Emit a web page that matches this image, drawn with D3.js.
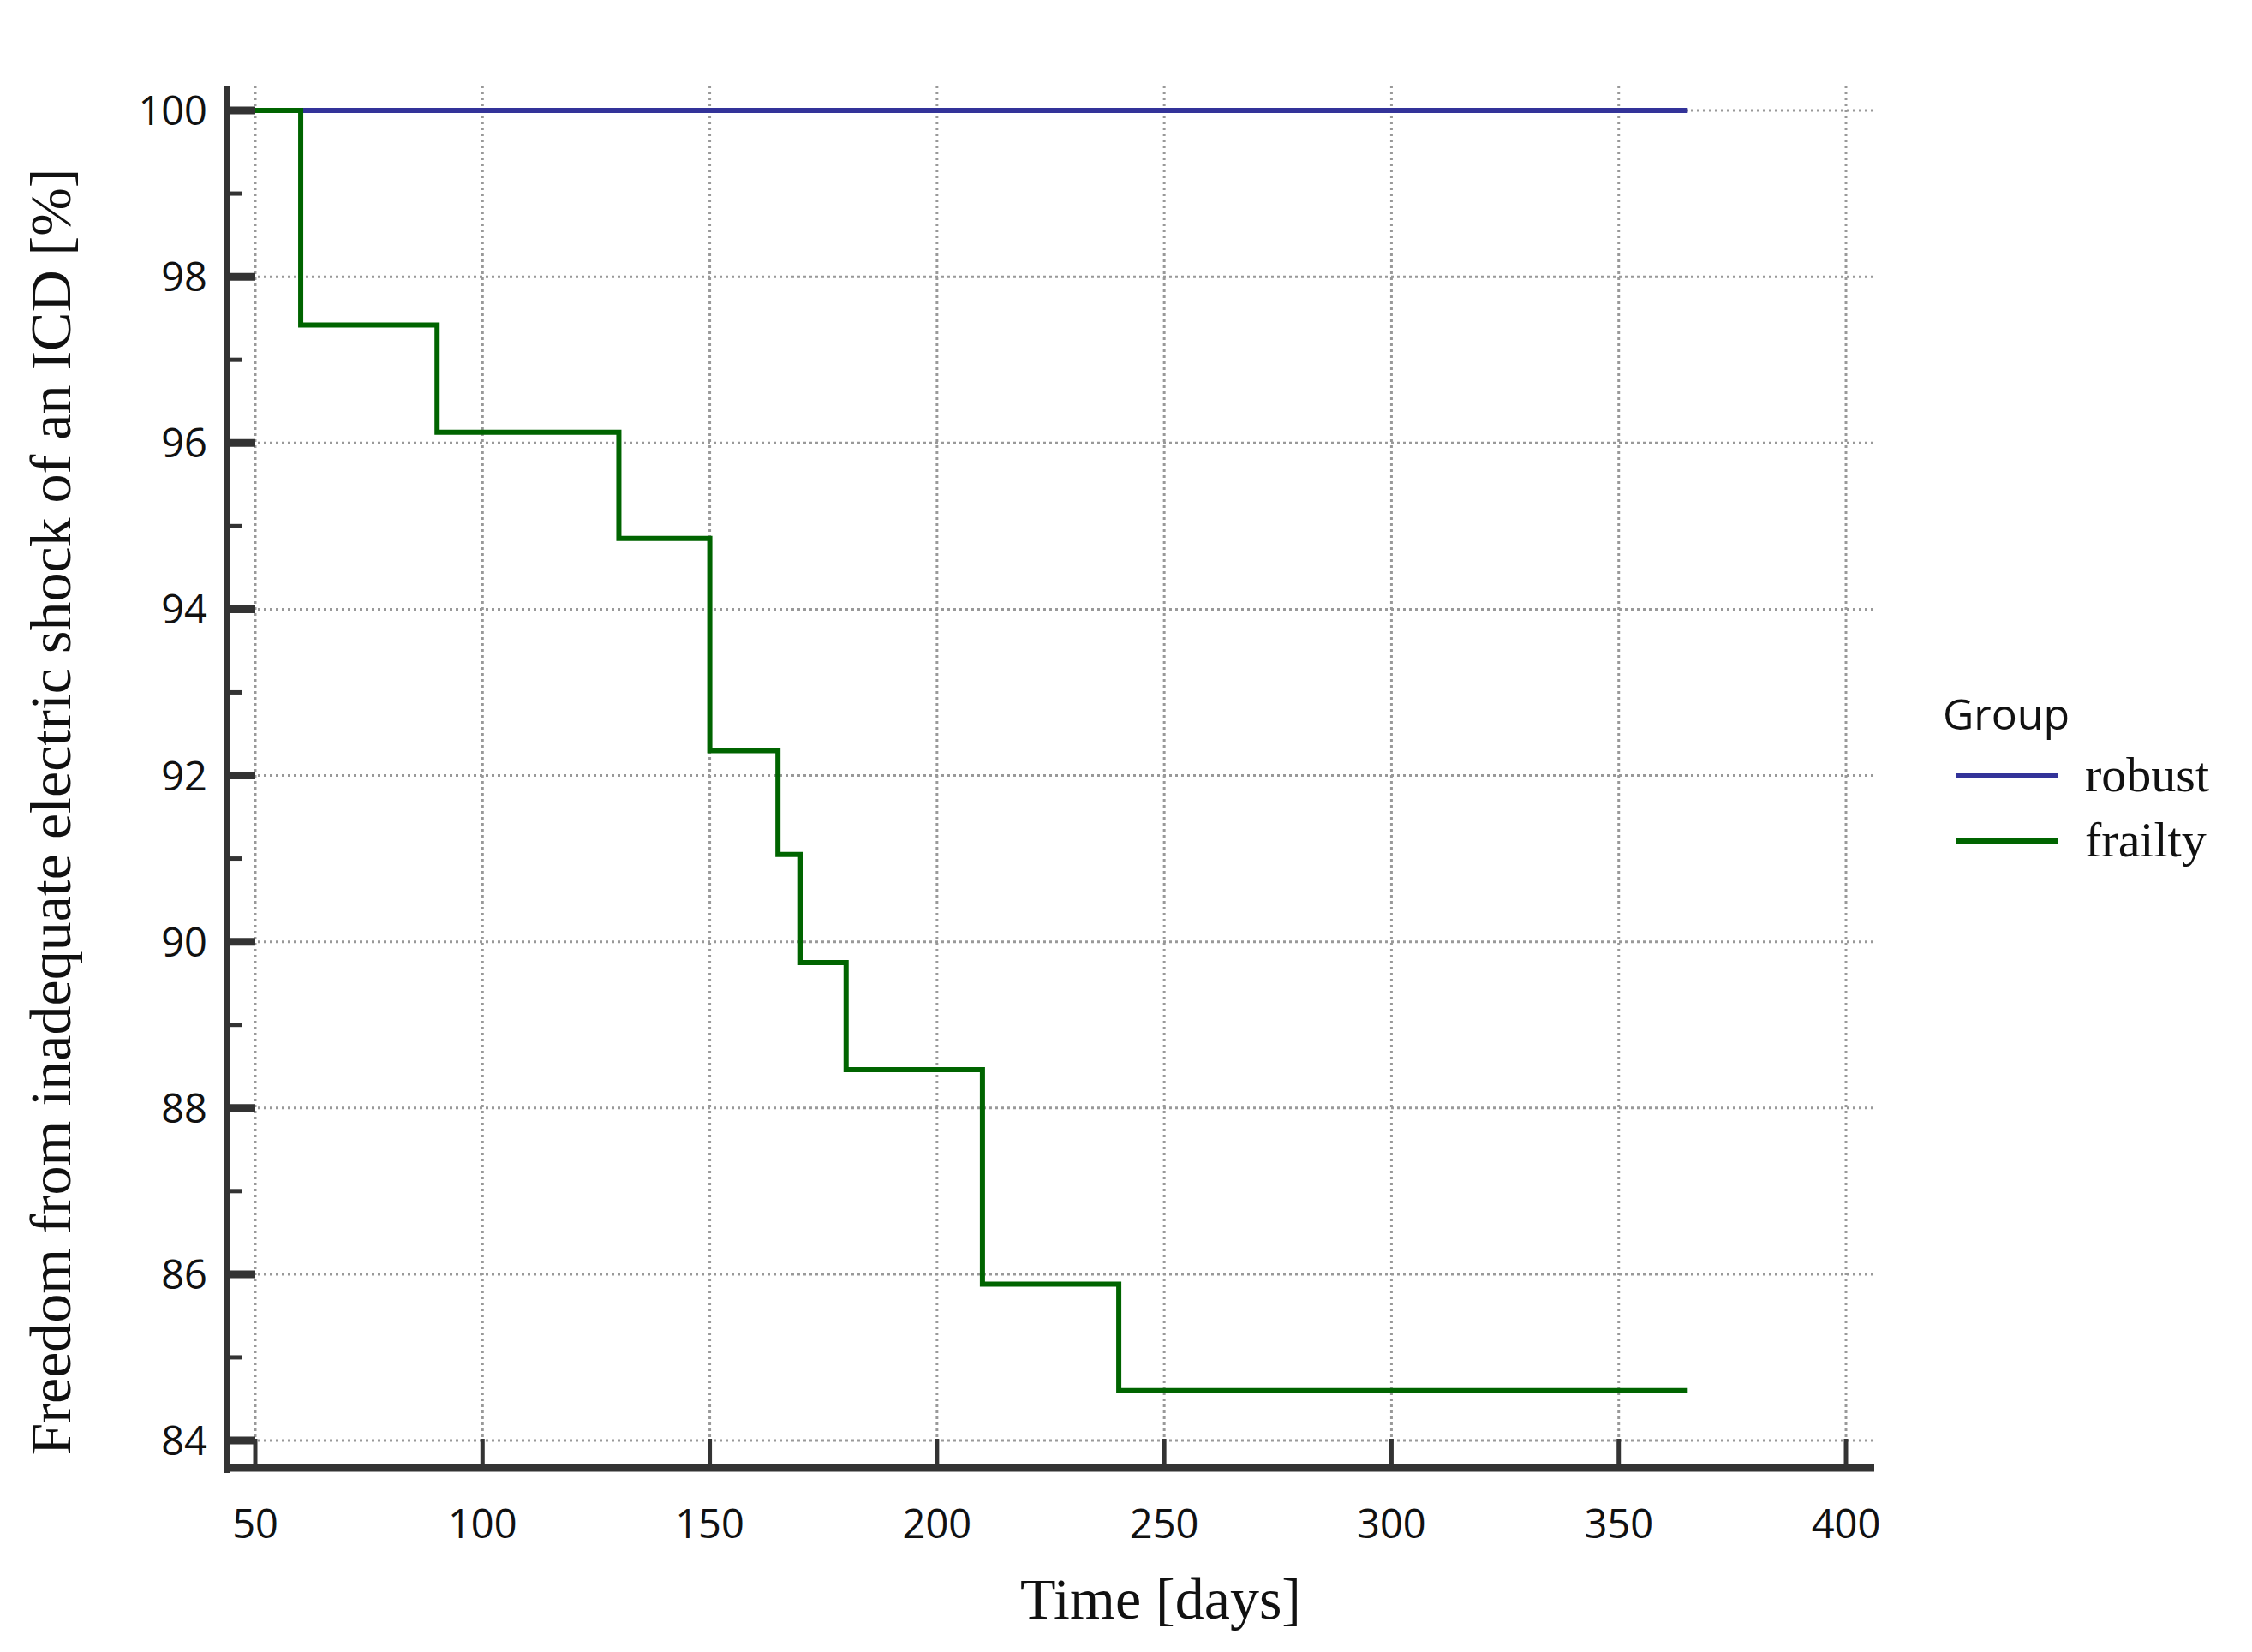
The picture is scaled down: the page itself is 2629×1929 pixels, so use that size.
<!DOCTYPE html>
<html><head><meta charset="utf-8">
<script src="https://cdn.jsdelivr.net/npm/d3@7"></script>
<style>body{margin:0;background:#fff}</style>
</head><body><svg id="chart" width="2629" height="1929"></svg>
<script>
// step data (time in days, survival %)
const robustTimes = [50, 365];
const robustValues = [100, 100];
const frailtyTimes = [50, 60, 90, 130, 150, 165, 170, 180, 210, 240, 365];
const frailtyValues = [100, 97.42, 96.13, 94.85, 92.3, 91.05, 89.75, 88.46, 85.88, 84.6, 84.6];
const xTicks = [50, 100, 150, 200, 250, 300, 350, 400];
const yTicks = [84, 86, 88, 90, 92, 94, 96, 98, 100];
const yMinor = [85, 87, 89, 91, 93, 95, 97, 99];
const groups = ["robust", "frailty"];
const colors = ["#333399", "#006400"];

const svg = d3.select("#chart");
const x = d3.scaleLinear().domain([50, 400]).range([298, 2155]);
const y = d3.scaleLinear().domain([84, 100]).range([1682, 129]);
const axisX = 265, axisY = 1714, plotRight = 2188, plotTop = 100;

// grid
const grid = svg.append("g").attr("stroke", "#999").attr("stroke-width", 3).attr("stroke-dasharray", "3,4");
grid.selectAll(".gx").data(xTicks).join("line")
  .attr("x1", d => x(d)).attr("x2", d => x(d)).attr("y1", plotTop).attr("y2", y(84) + 2);
grid.selectAll(".gy").data(yTicks).join("line")
  .attr("y1", d => y(d)).attr("y2", d => y(d)).attr("x1", axisX + 15).attr("x2", plotRight);

// axes
const ax = svg.append("g").attr("stroke", "#333");
ax.append("line").attr("x1", axisX).attr("x2", axisX).attr("y1", plotTop).attr("y2", axisY + 6).attr("stroke-width", 7);
ax.append("line").attr("x1", axisX - 3).attr("x2", plotRight).attr("y1", axisY).attr("y2", axisY).attr("stroke-width", 9);
ax.selectAll(".tx").data(xTicks).join("line")
  .attr("x1", d => x(d)).attr("x2", d => x(d)).attr("y1", axisY).attr("y2", axisY - 34).attr("stroke-width", 5);
ax.selectAll(".ty").data(yTicks).join("line")
  .attr("y1", d => y(d)).attr("y2", d => y(d)).attr("x1", axisX).attr("x2", axisX + 33).attr("stroke-width", 9);
ax.selectAll(".tm").data(yMinor).join("line")
  .attr("y1", d => y(d)).attr("y2", d => y(d)).attr("x1", axisX).attr("x2", axisX + 17).attr("stroke-width", 5);

svg.append("g").attr("font-family", "Open Sans").attr("font-size", 47).attr("fill", "#111")
  .selectAll("text").data(xTicks).join("text")
  .attr("x", d => x(d)).attr("y", axisY + 82).attr("text-anchor", "middle").text(d => d);
svg.append("g").attr("font-family", "Open Sans").attr("font-size", 47).attr("fill", "#111")
  .selectAll("text").data(yTicks).join("text")
  .attr("x", 242).attr("y", d => y(d) + 17).attr("text-anchor", "end").text(d => d);

// lines
const line = d3.line().curve(d3.curveStepAfter).x(d => x(d[0])).y(d => y(d[1]));
const series = [d3.zip(robustTimes, robustValues), d3.zip(frailtyTimes, frailtyValues)];
svg.append("g").selectAll("path").data(series).join("path")
  .attr("d", line).attr("fill", "none").attr("stroke-width", 6)
  .attr("stroke", (d, i) => colors[i]);

// titles
svg.append("text").attr("x", 1355).attr("y", 1890).attr("text-anchor", "middle")
  .attr("font-family", "Liberation Serif").attr("font-size", 68).attr("fill", "#111").text("Time [days]");
svg.append("text").attr("transform", "translate(82,948) rotate(-90)").attr("text-anchor", "middle")
  .attr("font-family", "Liberation Serif").attr("font-size", 68).attr("fill", "#111")
  .text("Freedom from inadequate electric shock of an ICD [%]");

// legend
const lg = svg.append("g");
lg.append("text").attr("x", 2268).attr("y", 852).attr("font-family", "Open Sans").attr("font-size", 50)
  .attr("fill", "#111").text("Group");
groups.forEach((g, i) => {
  const yy = 906 + i * 76;
  lg.append("line").attr("x1", 2284).attr("x2", 2402).attr("y1", yy).attr("y2", yy)
    .attr("stroke", colors[i]).attr("stroke-width", 6);
  lg.append("text").attr("x", 2434).attr("y", yy + 18).attr("font-family", "Liberation Serif")
    .attr("font-size", 58).attr("fill", "#111").text(g);
});
</script></body></html>
